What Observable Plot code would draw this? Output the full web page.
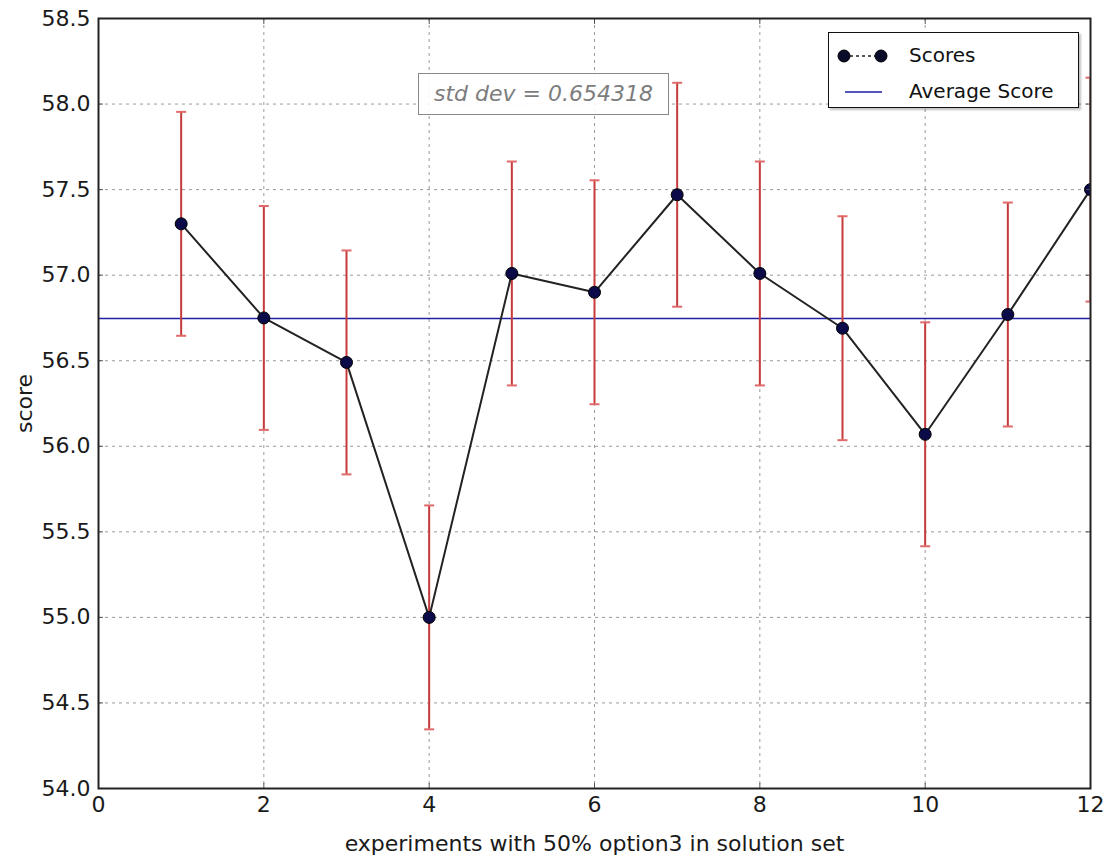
<!DOCTYPE html>
<html>
<head>
<meta charset="utf-8">
<script src="https://cdn.jsdelivr.net/npm/d3@7"></script>
<script src="https://cdn.jsdelivr.net/npm/@observablehq/plot@0.6"></script>
<style>
  html, body { margin: 0; padding: 0; background: #fff; }
  #wrap { position: relative; width: 1115px; height: 862px; font-family: "DejaVu Sans", sans-serif; }
  #legend { position: absolute; left: 828px; top: 32px; width: 251px; height: 76px; box-sizing: border-box;
    border: 1.5px solid #111; background: #fff; box-shadow: 2px 2px 2px rgba(0,0,0,0.25); }
  #legend svg { position: absolute; left: 0; top: 0; }
  #legend .lt { position: absolute; left: 80px; font-size: 20px; color: #111; line-height: 20px; }
  #sd { position: absolute; left: 418px; top: 73px; width: 251px; height: 42px; box-sizing: border-box;
    border: 1.5px solid #888; background: rgba(255,255,255,0.9); color: #7d7d7d; font-style: italic;
    font-size: 22px; line-height: 39px; text-align: center; white-space: nowrap; }
</style>
</head>
<body>
<div id="wrap"></div>
<script>
// ---- data ----
const experiments = [1, 2, 3, 4, 5, 6, 7, 8, 9, 10, 11, 12];
const scores = [57.30, 56.75, 56.49, 55.00, 57.01, 56.90, 57.47, 57.01, 56.69, 56.07, 56.77, 57.50];
const stdDev = 0.654318;
const xTicks = [0, 2, 4, 6, 8, 10, 12];
const yTicks = [54.0, 54.5, 55.0, 55.5, 56.0, 56.5, 57.0, 57.5, 58.0, 58.5];
const xLabel = "experiments with 50% option3 in solution set";
const yLabel = "score";
const legendLabels = ["Scores", "Average Score"];

// ---- derived ----
const data = experiments.map((x, i) => ({x, y: scores[i]}));
const avgScore = d3.mean(scores);

const capSymbol = {
  draw(context, size) {
    const r = Math.sqrt(size / Math.PI);
    context.moveTo(-r, 0);
    context.lineTo(r, 0);
  }
};

const grid = {stroke: "#9a9a9a", strokeOpacity: 1, strokeWidth: 1, strokeDasharray: "3,4"};

const chart = Plot.plot({
  width: 1115,
  height: 862,
  marginLeft: 98,
  marginRight: 25,
  marginTop: 18,
  marginBottom: 74,
  style: {fontFamily: "DejaVu Sans", fontSize: "22px", color: "#1a1a1a", background: "#fff", overflow: "visible"},
  x: {domain: [0, 12]},
  y: {domain: [54, 58.5]},
  marks: [
    Plot.gridX(xTicks, grid),
    Plot.gridY(yTicks, grid),
    Plot.ruleY([avgScore], {stroke: "#1f1fa3", strokeWidth: 1.5}),
    Plot.ruleX(data, {x: "x", y1: d => d.y - stdDev, y2: d => d.y + stdDev, stroke: "#c63a3a", strokeWidth: 2, clip: true}),
    Plot.dot(data, {x: "x", y: d => d.y + stdDev, symbol: capSymbol, r: 5, fill: "none", stroke: "#e06a6a", strokeWidth: 2, clip: true}),
    Plot.dot(data, {x: "x", y: d => d.y - stdDev, symbol: capSymbol, r: 5, fill: "none", stroke: "#e06a6a", strokeWidth: 2, clip: true}),
    Plot.line(data, {x: "x", y: "y", stroke: "#222", strokeWidth: 2, clip: true}),
    Plot.dot(data, {x: "x", y: "y", r: 6, fill: "#0b0b4a", stroke: "#000", strokeWidth: 1, clip: true}),
    Plot.axisX(xTicks, {tickSize: 0, tickPadding: 8, tickFormat: d => String(d), label: xLabel,
      labelAnchor: "center", labelArrow: "none", labelOffset: 62}),
    Plot.axisX(xTicks, {anchor: "bottom", tickSize: -5, tickFormat: () => "", label: null, stroke: "#555"}),
    Plot.axisX(xTicks, {anchor: "top", tickSize: -5, tickFormat: () => "", label: null, stroke: "#555"}),
    Plot.axisY(yTicks, {tickSize: 0, tickPadding: 8, tickFormat: d3.format(".1f"), label: yLabel,
      labelAnchor: "center", labelArrow: "none", labelOffset: 82}),
    Plot.axisY(yTicks, {anchor: "left", tickSize: -5, tickFormat: () => "", label: null, stroke: "#555"}),
    Plot.axisY(yTicks, {anchor: "right", tickSize: -5, tickFormat: () => "", label: null, stroke: "#555"}),
    Plot.frame({stroke: "#222", strokeWidth: 2})
  ]
});

const wrap = document.getElementById("wrap");
wrap.appendChild(chart);

// std dev annotation
const sd = document.createElement("div");
sd.id = "sd";
sd.textContent = "std dev = " + stdDev;
wrap.appendChild(sd);

// legend
const legend = document.createElement("div");
legend.id = "legend";
legend.innerHTML = `
  <svg width="80" height="76">
    <line x1="15" y1="23" x2="52" y2="23" stroke="#222" stroke-width="1.5" stroke-dasharray="3,3"/>
    <circle cx="15" cy="23" r="6" fill="#0b0b2a" stroke="#000"/>
    <circle cx="52" cy="23" r="6" fill="#0b0b2a" stroke="#000"/>
    <line x1="16" y1="59" x2="53" y2="59" stroke="#1f1fa3" stroke-width="1.5"/>
  </svg>
  <div class="lt" style="top:12px">${legendLabels[0]}</div>
  <div class="lt" style="top:48px">${legendLabels[1]}</div>`;
wrap.appendChild(legend);
</script>
</body>
</html>
